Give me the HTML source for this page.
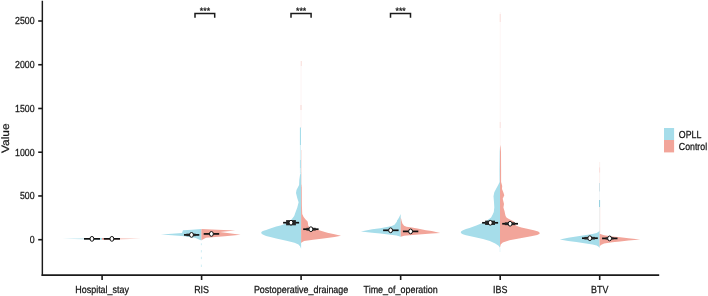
<!DOCTYPE html>
<html lang="en"><head><meta charset="utf-8"><title>Violin plot</title>
<style>html,body{margin:0;padding:0;background:#fff;}svg{display:block;}text{font-family:"Liberation Sans",Arial,sans-serif;fill:#141414;stroke:#141414;stroke-width:0.25px;text-rendering:geometricPrecision;}</style></head><body>
<svg width="708" height="296" viewBox="0 0 708 296">
<rect width="708" height="296" fill="#fff"/>
<path d="M62.5,238.8 L85.0,238.4 L102.0,238.0 L102.0,239.7 L85.0,239.3 Z" fill="#A6DDEA" />
<path d="M141.0,238.8 L120.0,238.4 L102.0,238.0 L102.0,239.7 L120.0,239.3 Z" fill="#F2A59A" />
<path d="M201.4,228.9 L192.0,229.7 L183.0,230.2 L182.0,232.9 L172.0,233.8 L160.9,234.6 L172.0,235.3 L182.0,235.9 L195.0,237.8 L201.4,240.4 Z" fill="#A6DDEA" />
<path d="M201.4,228.9 L212.0,229.4 L235.3,230.5 L219.9,232.1 L240.6,234.8 L224.8,236.2 L206.0,237.8 L201.4,240.2 Z" fill="#F2A59A" />
<rect x="200.9" y="243.3" width="0.8" height="1.9" fill="#A6DDEA" opacity="0.65"/>
<rect x="200.9" y="250.1" width="0.8" height="2.3" fill="#A6DDEA" opacity="0.65"/>
<rect x="200.9" y="256.8" width="0.8" height="2.3" fill="#A6DDEA" opacity="0.65"/>
<rect x="200.9" y="264.6" width="0.8" height="2.4" fill="#A6DDEA" opacity="0.65"/>
<path d="M301.1,172.0 L300.0,175.0 L299.3,180.0 L299.1,185.0 L296.5,190.1 L296.0,193.1 L297.3,198.2 L298.6,202.3 L297.3,207.4 L295.6,212.0 L294.2,216.0 L291.8,219.3 L288.0,222.0 L284.1,224.3 L280.5,225.5 L276.2,226.6 L270.3,228.5 L266.1,229.9 L263.6,230.8 L261.9,231.6 L261.1,232.7 L261.9,233.9 L263.8,235.1 L266.1,236.1 L270.3,237.1 L276.2,238.4 L286.4,240.7 L294.5,242.7 L298.5,244.6 L300.2,246.5 L301.1,248.8 Z" fill="#A6DDEA" />
<path d="M301.1,184.0 L301.8,187.0 L301.9,205.0 L302.2,214.0 L303.6,217.0 L305.6,219.6 L307.6,221.6 L308.0,223.4 L308.2,225.4 L309.1,226.7 L313.0,228.3 L320.8,230.7 L327.4,232.7 L334.5,234.2 L341.0,235.8 L334.5,237.1 L323.3,238.6 L313.2,239.8 L304.1,241.1 L302.0,242.2 L301.1,243.0 Z" fill="#F2A59A" />
<rect x="299.9" y="127.5" width="1.1" height="17.5" fill="#A6DDEA"/>
<rect x="299.9" y="145" width="1.1" height="15" fill="#A6DDEA" opacity="0.4"/>
<rect x="299.9" y="160" width="1.1" height="8" fill="#A6DDEA" opacity="0.85"/>
<rect x="299.9" y="168" width="1.1" height="5" fill="#A6DDEA" opacity="0.55"/>
<rect x="301.1" y="150" width="0.7" height="36" fill="#F2A59A" opacity="0.35"/>
<rect x="300.6" y="61" width="0.9" height="67" fill="#F2A59A" opacity="0.13"/>
<rect x="300.5" y="105" width="1" height="5" fill="#F2A59A" opacity="0.4"/>
<rect x="300.8" y="61" width="1" height="5" fill="#F2A59A" opacity="0.3"/>
<path d="M400.7,214.0 L400.0,215.6 L399.0,217.5 L398.0,219.2 L397.0,220.6 L396.8,221.8 L395.6,223.2 L394.8,224.4 L393.0,225.4 L391.0,226.2 L386.8,227.1 L380.3,228.2 L372.2,229.3 L360.9,231.4 L372.2,232.7 L380.3,233.6 L388.4,234.5 L396.6,235.4 L400.7,236.8 Z" fill="#A6DDEA" />
<path d="M400.7,217.4 L401.2,219.0 L401.5,220.5 L402.4,223.4 L404.1,225.8 L406.5,226.8 L411.9,227.5 L418.7,228.8 L426.0,230.2 L431.7,231.1 L440.2,233.0 L431.7,233.6 L422.0,234.3 L412.2,235.1 L404.1,235.8 L400.7,236.7 Z" fill="#F2A59A" />
<path d="M500.0,146.0 L499.7,152.0 L499.5,170.0 L499.6,182.0 L498.2,185.0 L496.0,189.1 L494.3,192.2 L493.5,196.2 L494.0,202.3 L494.3,207.4 L494.0,210.0 L493.8,212.0 L492.7,214.5 L491.1,217.4 L487.0,220.5 L483.0,222.8 L476.3,225.5 L469.5,227.9 L466.0,229.1 L463.0,230.2 L461.3,231.2 L460.7,232.3 L461.5,233.5 L462.8,234.3 L466.0,235.3 L469.5,236.0 L476.3,237.5 L483.0,239.1 L489.8,241.1 L495.2,243.4 L498.6,245.8 L500.0,247.8 Z" fill="#A6DDEA" />
<path d="M500.0,145.0 L500.6,147.0 L501.0,152.0 L501.1,170.0 L501.1,182.0 L502.2,186.1 L502.0,189.1 L503.3,192.2 L504.3,195.2 L502.7,198.8 L504.0,203.9 L503.4,207.4 L504.5,211.0 L505.1,214.0 L505.6,216.0 L506.5,217.4 L508.0,218.5 L509.9,219.4 L512.0,220.5 L513.9,221.5 L515.0,223.5 L516.0,225.5 L518.3,226.5 L521.4,227.6 L526.0,228.6 L533.8,230.2 L538.2,231.5 L539.9,232.9 L539.2,234.0 L537.2,235.0 L531.1,236.2 L520.3,238.2 L509.5,240.3 L502.8,242.4 L500.7,244.4 L500.0,247.4 Z" fill="#F2A59A" />
<rect x="499.7" y="12" width="1" height="134" fill="#F2A59A" opacity="0.1"/>
<rect x="499.7" y="122" width="1" height="6" fill="#F2A59A" opacity="0.25"/>
<rect x="499.7" y="14" width="1" height="8" fill="#F2A59A" opacity="0.3"/>
<rect x="499.55" y="247.5" width="0.9" height="4.5" fill="#A6DDEA" opacity="0.3"/>
<path d="M599.6,230.5 L598.6,231.7 L596.6,233.1 L592.5,234.1 L584.4,235.3 L576.3,236.5 L568.2,237.8 L559.9,239.4 L568.2,241.0 L576.3,242.1 L584.4,243.2 L592.5,244.5 L596.6,245.5 L598.6,246.7 L599.6,247.9 Z" fill="#A6DDEA" />
<path d="M599.6,233.7 L604.1,235.3 L612.2,236.5 L620.3,237.3 L628.4,238.2 L640.2,239.4 L628.4,240.6 L620.3,241.4 L612.2,242.2 L604.1,243.4 L600.9,245.1 L599.6,246.5 Z" fill="#F2A59A" />
<rect x="599.1" y="162" width="1" height="21" fill="#F2A59A" opacity="0.15"/>
<rect x="599.1" y="167.5" width="1" height="5" fill="#F2A59A" opacity="0.25"/>
<rect x="599.0" y="183" width="1" height="8.5" fill="#9BBFCC" opacity="0.45"/>
<rect x="599.0" y="191.5" width="1" height="8.5" fill="#9BBFCC" opacity="0.12"/>
<rect x="599.0" y="200" width="1.1" height="7" fill="#86C9DB" opacity="0.85"/>
<rect x="599.0" y="207" width="0.6" height="24" fill="#A6DDEA" opacity="0.3"/>
<rect x="599.6" y="207" width="0.7" height="27" fill="#F2A59A" opacity="0.3"/>
<line x1="84.0" y1="238.85" x2="100.0" y2="238.85" stroke="#111" stroke-width="1.7"/><ellipse cx="91.95" cy="238.85" rx="1.95" ry="2.4" fill="#fff" stroke="#111" stroke-width="1.0"/>
<line x1="103.8" y1="238.85" x2="120.0" y2="238.85" stroke="#111" stroke-width="1.7"/><ellipse cx="111.9" cy="238.85" rx="1.95" ry="2.4" fill="#fff" stroke="#111" stroke-width="1.0"/>
<line x1="184.0" y1="234.9" x2="199.3" y2="234.9" stroke="#111" stroke-width="1.7"/><rect x="186.4" y="233.65" width="9.30" height="2.5" fill="#262626"/><ellipse cx="191.5" cy="234.9" rx="1.95" ry="2.4" fill="#fff" stroke="#111" stroke-width="1.0"/>
<line x1="203.7" y1="233.9" x2="219.2" y2="233.9" stroke="#111" stroke-width="1.7"/><ellipse cx="211.4" cy="233.9" rx="1.95" ry="2.4" fill="#fff" stroke="#111" stroke-width="1.0"/>
<line x1="283.1" y1="222.7" x2="299.1" y2="222.7" stroke="#111" stroke-width="1.7"/><rect x="286.1" y="220.10" width="9.80" height="5.2" fill="#262626"/><ellipse cx="291.0" cy="222.7" rx="1.95" ry="2.4" fill="#fff" stroke="#111" stroke-width="1.0"/>
<line x1="303.2" y1="229.2" x2="318.6" y2="229.2" stroke="#111" stroke-width="1.7"/><rect x="306.4" y="227.80" width="9.30" height="2.8" fill="#262626"/><ellipse cx="310.9" cy="229.2" rx="1.95" ry="2.4" fill="#fff" stroke="#111" stroke-width="1.0"/>
<line x1="383.1" y1="230.3" x2="398.6" y2="230.3" stroke="#111" stroke-width="1.7"/><ellipse cx="390.6" cy="230.3" rx="1.95" ry="2.4" fill="#fff" stroke="#111" stroke-width="1.0"/>
<line x1="402.9" y1="231.4" x2="418.3" y2="231.4" stroke="#111" stroke-width="1.7"/><ellipse cx="410.6" cy="231.4" rx="1.95" ry="2.4" fill="#fff" stroke="#111" stroke-width="1.0"/>
<line x1="482.1" y1="222.8" x2="498.1" y2="222.8" stroke="#111" stroke-width="1.7"/><rect x="485.1" y="220.65" width="9.90" height="4.3" fill="#262626"/><ellipse cx="490.3" cy="222.8" rx="1.95" ry="2.4" fill="#fff" stroke="#111" stroke-width="1.0"/>
<line x1="502.2" y1="223.75" x2="518.0" y2="223.75" stroke="#111" stroke-width="1.7"/><rect x="504.8" y="222.35" width="10.20" height="2.8" fill="#262626"/><ellipse cx="510.1" cy="223.75" rx="1.95" ry="2.4" fill="#fff" stroke="#111" stroke-width="1.0"/>
<line x1="582.0" y1="238.2" x2="597.8" y2="238.2" stroke="#111" stroke-width="1.7"/><rect x="584.4" y="236.90" width="10.50" height="2.6" fill="#262626"/><ellipse cx="589.8" cy="238.2" rx="1.95" ry="2.4" fill="#fff" stroke="#111" stroke-width="1.0"/>
<line x1="602.1" y1="238.4" x2="617.5" y2="238.4" stroke="#111" stroke-width="1.7"/><rect x="605.6" y="237.35" width="8.00" height="2.1" fill="#262626"/><ellipse cx="609.6" cy="238.4" rx="1.95" ry="2.4" fill="#fff" stroke="#111" stroke-width="1.0"/>
<path d="M42.35,0.8 V275.9" stroke="#1a1a1a" stroke-width="1.45" fill="none"/>
<path d="M41.6,275.15 H659.2" stroke="#1a1a1a" stroke-width="1.6" fill="none"/>
<g stroke="#1a1a1a" stroke-width="1.6" fill="none">
<path d="M38.2,239.7 H42.4"/>
<path d="M38.2,195.96 H42.4"/>
<path d="M38.2,152.22 H42.4"/>
<path d="M38.2,108.48 H42.4"/>
<path d="M38.2,64.74 H42.4"/>
<path d="M38.2,21.0 H42.4"/>
<path d="M102.1,275 V280.0"/>
<path d="M201.6,275 V280.0"/>
<path d="M301.1,275 V280.0"/>
<path d="M400.65,275 V280.0"/>
<path d="M500.2,275 V280.0"/>
<path d="M599.7,275 V280.0"/>
</g>
<text transform="translate(34.60,243.15) scale(0.863,1)" font-size="10.2" text-anchor="end" >0</text>
<text transform="translate(34.60,199.41) scale(0.863,1)" font-size="10.2" text-anchor="end" >500</text>
<text transform="translate(34.60,155.67) scale(0.863,1)" font-size="10.2" text-anchor="end" >1000</text>
<text transform="translate(34.60,111.93) scale(0.863,1)" font-size="10.2" text-anchor="end" >1500</text>
<text transform="translate(34.60,68.19) scale(0.863,1)" font-size="10.2" text-anchor="end" >2000</text>
<text transform="translate(34.60,24.45) scale(0.863,1)" font-size="10.2" text-anchor="end" >2500</text>
<text transform="translate(102.10,292.60) scale(0.877,1)" font-size="10.2" text-anchor="middle" >Hospital_stay</text>
<text transform="translate(201.60,292.60) scale(0.877,1)" font-size="10.2" text-anchor="middle" >RIS</text>
<text transform="translate(301.10,292.60) scale(0.877,1)" font-size="10.2" text-anchor="middle" >Postoperative_drainage</text>
<text transform="translate(400.65,292.60) scale(0.877,1)" font-size="10.2" text-anchor="middle" >Time_of_operation</text>
<text transform="translate(500.20,292.60) scale(0.877,1)" font-size="10.2" text-anchor="middle" >IBS</text>
<text transform="translate(599.70,292.60) scale(0.877,1)" font-size="10.2" text-anchor="middle" >BTV</text>
<text transform="translate(9.2,138.2) rotate(-90) scale(1,0.9)" font-size="11.9" text-anchor="middle">Value</text>
<path d="M195.0,17.8 V13.6 H214.7 V17.8" fill="none" stroke="#1a1a1a" stroke-width="1.5"/>
<text transform="translate(204.95,14.20) scale(0.94,1)" font-size="9.3" text-anchor="middle" >***</text>
<path d="M291.0,17.8 V13.6 H311.1 V17.8" fill="none" stroke="#1a1a1a" stroke-width="1.5"/>
<text transform="translate(301.15,14.20) scale(0.94,1)" font-size="9.3" text-anchor="middle" >***</text>
<path d="M390.5,17.8 V13.6 H410.5 V17.8" fill="none" stroke="#1a1a1a" stroke-width="1.5"/>
<text transform="translate(400.60,14.20) scale(0.94,1)" font-size="9.3" text-anchor="middle" >***</text>
<rect x="664" y="128" width="10.1" height="12.0" fill="#A6DDEA"/>
<rect x="664" y="140" width="10.1" height="12.4" fill="#F2A59A"/>
<text transform="translate(678.80,137.70) scale(0.863,1)" font-size="10.2" text-anchor="start" >OPLL</text>
<text transform="translate(678.80,150.00) scale(0.863,1)" font-size="10.2" text-anchor="start" >Control</text>
</svg></body></html>
